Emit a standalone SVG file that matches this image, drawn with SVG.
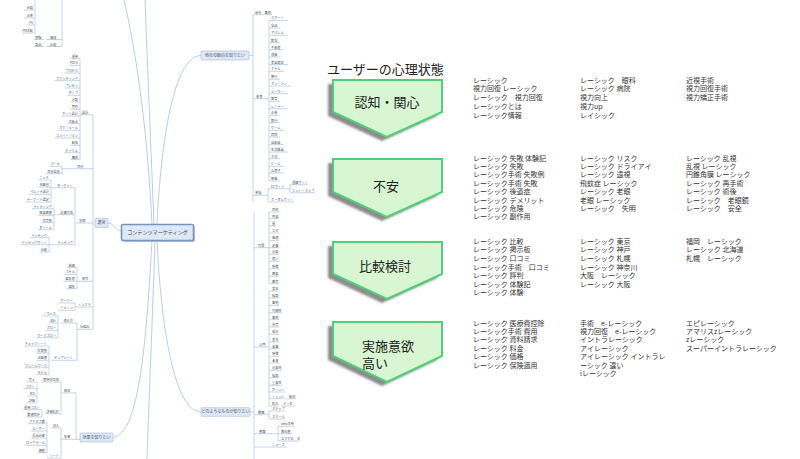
<svg xmlns="http://www.w3.org/2000/svg" width="800" height="459" viewBox="0 0 800 459">
<defs>
<style>
.k{font-family:"Noto Sans CJK JP","Noto Sans",sans-serif;font-size:7px;fill:#333}
.h{font-family:"Noto Sans CJK JP","Noto Sans",sans-serif;font-size:13px;fill:#222}
.m{font-family:"Noto Sans CJK JP","Noto Sans",sans-serif;font-size:3.2px;fill:#555}
.me{font-family:"Noto Sans CJK JP","Noto Sans",sans-serif;font-size:3.2px;fill:#555;text-anchor:end}
.n{font-family:"Noto Sans CJK JP","Noto Sans",sans-serif;font-size:4px;fill:#556}
.ln{fill:none;stroke:#a9c3e3;stroke-width:0.7}
.cv{fill:none;stroke:#a8c0e0;stroke-width:0.8}
.box{fill:#dfe9f6;stroke:#9fbadc;stroke-width:0.6}
.pent{fill:#d9f6d2;stroke:#50cf7b;stroke-width:2}
.shd{fill:#8c8c8c}
</style>
<filter id="bl" x="-10%" y="-10%" width="120%" height="120%"><feGaussianBlur stdDeviation="1"/></filter>
</defs>
<rect width="800" height="459" fill="#fff"/>

<!-- mind map connectors -->
<g id="connectors">
<path class="cv" d="M157,224.5 C161,140 174,55.5 201,55.5"/>
<path class="cv" d="M157,240.5 C161,325 174,412 201,412"/>
<path class="cv" d="M152,224.5 C148,140 138,60 124,0"/>
<path class="cv" d="M154,224.5 C151,150 148,80 145,0"/>
<path class="cv" d="M155,240.5 C152,330 149,400 147,459"/>
<path class="cv" d="M152,240.5 C147,330 140,437 113,437"/>
<path class="cv" d="M108,223 C114,223 115,231 121.5,231"/>
<!-- left top -->
<path class="ln" d="M35,0 V33 M24,10 H35 M24,18 H35 M28,25 H35 M22,33 H35 M62,0 V46.5 M34,39.5 H44 M46,39.5 H62 M34,46.5 H44 M46,46.5 H62"/>
<!-- 設計 -->
<path class="ln" d="M80,58.7 V159.7 M70.6,58.7 H80 M69.8,65.3 H80 M64.2,73 H80 M54.6,80.7 H80 M64.2,88 H80 M67.4,95.3 H80 M70.6,102 H80 M70.6,109.3 H80 M61,116 H80 M67.4,123.7 H80 M57.8,130.3 H80 M54.6,138 H80 M70.6,145.3 H80 M64.2,152.7 H80 M70.6,159.7 H80 M80,114.7 H93 M93,114.7 V329.3"/>
<!-- 目標 -->
<path class="ln" d="M62,166.3 V173.7 M50,166.3 H62 M46.6,173.7 H62 M62,168.7 H93"/>
<!-- 実務 -->
<path class="ln" d="M75,187.7 V244.7 M75,223 H93 M55,187.7 H75 M51,180 V202 M51,187.7 H55 M38.4,180 H51 M38.4,187 H51 M28.8,194.3 H51 M25.6,202 H51 M58,214.7 H75 M54,208.7 V229.7 M54,214.7 H58 M31.8,208.7 H54 M38.2,215.3 H54 M41.4,222.7 H54 M38.2,229.7 H54 M52,244.7 H75 M49,237.7 V252 M49,244.7 H52 M30,237.7 H49 M20.4,244.7 H49 M39.6,252 H49"/>
<!-- 制作 インフラ 仕組み -->
<path class="ln" d="M77,267.7 V288.7 M77,281.3 H93 M66.6,267.7 H77 M63.4,274.3 H77 M63.4,281.3 H77 M66.6,288.7 H77 M75,303 V310.3 M75,307 H93 M58.2,303 H75 M58.2,310.3 H75 M77,323 V360.3 M77,329.3 H93 M61,323 H77 M58,316 V337.7 M42.2,316 H58 M48.6,323 H58 M45.4,330.3 H58 M35.8,337.7 H58 M51.5,360.3 H77 M49,346 V374.7 M24.6,346 H49 M36.4,353 H49 M36.4,360.3 H49 M24.6,367.7 H49 M36.4,374.7 H49"/>
<!-- 効果 -->
<path class="ln" d="M76,393 V439.3 M76,439.3 H80 M61,393 H76 M61,382 V413.7 M41,382 H61 M37,382 V403 M26.6,382 H37 M23.4,388.7 H37 M27,396 H37 M26.6,403 H37 M45,413.7 H61 M42,409.7 V417 M23.0,409.7 H42 M26.2,417 H42 M61,439.3 H76 M61,428 V458 M51,428 H61 M47,423.7 V452.7 M28,423.7 H47 M31.2,431 H47 M31.2,438 H47 M24.8,445.3 H47 M37.6,452.7 H47 M47,458 H61"/>
<!-- 他社 -->
<path class="ln" d="M249,55.5 H253 M253,14.7 V202 M253,14.7 H272 M253,98.7 H269 M269,20.3 V181 M269,20.3 H288 M269,28 H280 M269,35.3 H288 M269,42.7 H280 M269,49.7 H284 M269,57 H280 M269,64.7 H288 M269,71.3 H284 M269,79.3 H280 M269,86 H291 M269,93.7 H288 M269,101.3 H280 M269,108.7 H288 M269,115.3 H280 M269,122.7 H280 M269,130.3 H284 M269,137 H280 M269,144.7 H284 M269,152 H288 M269,158.7 H280 M269,166.3 H284 M269,173 H284 M269,181 H280 M253,195.3 H268 M268,188.7 V202 M268,188.7 H290 M290,184.7 V192.7 M290,184.7 H308 M290,192.7 H315 M268,202 H294"/>
<!-- どのような -->
<path class="ln" d="M250,412 H254 M254,212 V459 M254,247.7 H269 M269,212 V283.7 M269,212 H279 M269,218.7 H279 M269,226 H276 M269,233 H279 M269,240.3 H279 M269,247.7 H279 M269,254.3 H279 M269,261.3 H279 M269,268.7 H279 M269,276.3 H279 M269,283.7 H279 M254,347 H269 M269,291 V406 M269,291 H279 M269,298 H279 M269,305.3 H279 M269,312.7 H282 M269,319.7 H279 M269,327 H279 M269,334.3 H279 M269,342 H279 M269,348.7 H279 M269,356.3 H279 M269,363 H279 M269,370.3 H282 M269,377.7 H279 M269,385.3 H282 M269,392 H285 M269,398.7 H285 M287,398.7 H296 M269,406 H279 M281,406 H295 M254,414.7 H269 M269,411 V419 M269,411 H285 M269,419 H285 M254,433.7 H278 M278,426.3 V441 M278,426.3 H295 M278,433.7 H292 M278,441 H299 M254,447 H287"/>
</g>

<!-- mind map texts -->
<g id="mm-topleft">
<text class="me" x="33" y="9">会員</text><text class="me" x="33" y="17">企業</text><text class="me" x="33" y="24">PV</text><text class="me" x="33" y="32">PR活動</text>
<text class="m" x="35" y="38.6">情報</text><text class="m" x="50" y="38.6">価格</text>
<text class="m" x="35" y="45.6">製品</text><text class="m" x="50" y="45.6">比較</text>
</g>
<g id="mm-sekkei">
<text class="me" x="78" y="57.8">運用</text><text class="me" x="78" y="64.4">PDCA</text><text class="me" x="78" y="72.1">プロセス</text><text class="me" x="78" y="79.8">ブランディング</text><text class="me" x="78" y="87.1">プレゼン</text><text class="me" x="78" y="94.4">タイプ</text><text class="me" x="78" y="101.1">分類</text><text class="me" x="78" y="108.4">管理</text><text class="me" x="78" y="115.1">サイト設計</text><text class="me" x="78" y="122.8">注意点</text><text class="me" x="78" y="129.4">スケジュール</text><text class="me" x="78" y="137.1">コンバージョン</text><text class="me" x="78" y="144.4">転換</text><text class="me" x="78" y="151.8">チャネル</text><text class="me" x="78" y="158.8">構成</text>
<text class="m" x="82" y="113.8">設計</text>
</g>
<g id="mm-mokuhyo">
<text class="m" x="77" y="167.8">目標</text><text class="me" x="60" y="165.4">ゴール</text><text class="me" x="60" y="172.8">目標設定</text>
</g>
<g id="mm-jitsumu">
<text class="m" x="79" y="222.1">実務</text>
<text class="me" x="73" y="186.8">ターゲット</text><text class="me" x="49" y="179.1">ニッチ</text><text class="me" x="49" y="186.1">年齢層</text><text class="me" x="49" y="193.4">ペルソナ設計</text><text class="me" x="49" y="201.1">キーワード選定</text>
<text class="me" x="73" y="213.8">記事作成</text><text class="me" x="52" y="207.8">ライティング</text><text class="me" x="52" y="214.4">需要調査</text><text class="me" x="52" y="221.8">文章術</text><text class="me" x="52" y="228.8">タイトル</text>
<text class="me" x="73" y="243.8">ランキング</text><text class="me" x="47" y="236.8">ランキング</text><text class="me" x="47" y="243.8">ランキングサイト</text><text class="me" x="47" y="251.1">比較</text>
</g>
<g id="mm-seisaku">
<text class="m" x="82" y="280.4">制作</text><text class="me" x="75" y="266.8">動画</text><text class="me" x="75" y="273.4">スキル</text><text class="me" x="75" y="280.4">編集者</text><text class="me" x="75" y="287.8">編集</text>
<text class="m" x="78" y="306.1">インフラ</text><text class="me" x="73" y="302.1">サーバー</text><text class="me" x="73" y="309.4">ドメイン</text>
<text class="m" x="80" y="328.4">仕組み</text><text class="me" x="73" y="322.1">進め方</text><text class="me" x="56" y="315.1">ノウハウ</text><text class="me" x="56" y="322.1">流れ</text><text class="me" x="56" y="329.4">フロー</text><text class="me" x="56" y="336.8">ワークフロー</text>
<text class="me" x="73" y="359.4">テンプレート</text><text class="me" x="47" y="345.1">チェックシート</text><text class="me" x="47" y="352.1">提案書</text><text class="me" x="47" y="359.4">企画書</text><text class="me" x="47" y="366.8">フレームワーク</text><text class="me" x="47" y="373.8">モデル</text>
</g>
<g id="mm-unei">
<rect class="box" x="95" y="218.5" width="13" height="9" rx="1"/>
<text class="n" x="101.5" y="224.4" text-anchor="middle">運営</text>
</g>
<g id="mm-kouka">
<rect class="box" x="80" y="433" width="33" height="9" rx="1"/>
<text class="n" x="96.5" y="438.9" text-anchor="middle">効果を知りたい</text>
<text class="m" x="64" y="392.1">結果</text><text class="me" x="59" y="381.1">費用対効果</text><text class="me" x="35" y="381.1">売上</text><text class="me" x="35" y="387.8">コスト</text><text class="me" x="35" y="395.1">ROI</text><text class="me" x="35" y="402.1">評価</text>
<text class="me" x="59" y="412.8">評価指標</text><text class="me" x="40" y="408.8">運用コスト</text><text class="me" x="40" y="416.1">数値目標</text>
<text class="m" x="64" y="438.4">集客</text><text class="me" x="59" y="427.1">流入</text><text class="me" x="45" y="422.8">アクセス数</text><text class="me" x="45" y="430.1">ユーザー</text><text class="me" x="45" y="437.1">見込み客</text><text class="me" x="45" y="444.4">ロングテール</text><text class="me" x="45" y="451.8">調査</text><text class="me" x="59" y="457.1">リード</text>
</g>
<g id="mm-center">
<rect x="123" y="226" width="72" height="16" rx="1.5" fill="#b9c6d8"/>
<rect x="121.5" y="224.5" width="72" height="16" rx="1.5" fill="#dfe9f6" stroke="#7895c0" stroke-width="1.6"/>
<text x="157.5" y="234.4" text-anchor="middle" font-family="Noto Sans CJK JP, sans-serif" font-size="5.1" fill="#445">コンテンツマーケティング</text>
</g>
<g id="mm-tasha">
<rect class="box" x="201" y="51" width="48" height="9" rx="1"/>
<text class="n" x="225" y="56.9" text-anchor="middle">他社の動向を知りたい</text>
<text class="m" x="255" y="13.8">競合　事例</text>
<text class="m" x="256" y="97.8">業界</text>
<text class="m" x="271" y="19.4">スポーツ</text><text class="m" x="271" y="27.1">食品</text><text class="m" x="271" y="34.4">アパレル</text><text class="m" x="271" y="41.8">飲食</text><text class="m" x="271" y="48.8">不動産</text><text class="m" x="271" y="56.1">通販</text><text class="m" x="271" y="63.8">美容健康</text><text class="m" x="271" y="70.4">ホテル</text><text class="m" x="271" y="78.4">旅行</text><text class="m" x="271" y="85.1">マンション</text><text class="m" x="271" y="92.8">メーカー</text><text class="m" x="271" y="100.4">教育</text><text class="m" x="271" y="107.8">レジャー</text><text class="m" x="271" y="114.4">企業</text><text class="m" x="271" y="121.8">銀行</text><text class="m" x="271" y="129.4">ゲーム</text><text class="m" x="271" y="136.1">病院</text><text class="m" x="271" y="143.8">自動車</text><text class="m" x="271" y="151.1">生活雑貨</text><text class="m" x="271" y="157.8">大学</text><text class="m" x="271" y="165.4">ビール</text><text class="m" x="271" y="172.1">お菓子</text><text class="m" x="271" y="180.1">映画</text>
<text class="m" x="255" y="194.4">業種</text><text class="m" x="271" y="187.8">ECサイト</text><text class="m" x="292" y="183.8">通販サイト</text><text class="m" x="292" y="191.8">ネットショップ</text><text class="m" x="271" y="201.1">ポータルサイト</text>
</g>
<g id="mm-donoyouna">
<rect class="box" x="201" y="407.7" width="49" height="8.6" rx="1"/>
<text class="n" x="225.5" y="413.4" text-anchor="middle">どのようなものが知りたい</text>
<text class="m" x="258" y="246.8">背景</text>
<text class="m" x="272" y="211.1">目的</text><text class="m" x="272" y="217.8">内容</text><text class="m" x="272" y="225.1">量</text><text class="m" x="272" y="232.1">なぜ</text><text class="m" x="272" y="239.4">価値</text><text class="m" x="272" y="246.8">定義</text><text class="m" x="272" y="253.4">必要</text><text class="m" x="272" y="260.4">違い</text><text class="m" x="272" y="267.8">特徴</text><text class="m" x="272" y="275.4">概要</text><text class="m" x="272" y="282.8">概念</text>
<text class="m" x="259" y="346.1">入門</text>
<text class="m" x="272" y="290.1">基本</text><text class="m" x="272" y="297.1">種類</text><text class="m" x="272" y="304.4">事例</text><text class="m" x="272" y="311.8">可能性</text><text class="m" x="272" y="318.8">事例</text><text class="m" x="272" y="326.1">参考</text><text class="m" x="272" y="333.4">成功</text><text class="m" x="272" y="341.1">基本</text><text class="m" x="272" y="347.8">意識</text><text class="m" x="272" y="355.4">特徴</text><text class="m" x="272" y="362.1">未来</text><text class="m" x="272" y="369.4">必要性</text><text class="m" x="272" y="376.8">種類</text><text class="m" x="272" y="384.4">重要性</text><text class="m" x="272" y="391.1">ポイント</text><text class="m" x="272" y="397.8">トレンド</text><text class="m" x="289" y="397.8">動向</text><text class="m" x="272" y="405.1">統計</text><text class="m" x="283" y="405.1">データ</text>
<text class="m" x="258" y="413.8">戦略</text><text class="m" x="272" y="410.1">ステップ</text><text class="m" x="272" y="418.1">スクール</text>
<text class="m" x="259" y="432.8">書籍</text><text class="m" x="281" y="425.4">web活用</text><text class="m" x="281" y="432.8">教科書</text><text class="m" x="281" y="440.1">おすすめ　本</text>
<text class="m" x="272" y="446.1">ニュース</text>
</g>

<!-- right: user psychology -->
<g id="title"><text class="h" x="327" y="74">ユーザーの心理状態</text></g>

<g id="stage1">
<polygon class="shd" filter="url(#bl)" points="328,84 437,84 437,116 382,141 328,116"/>
<polygon class="pent" points="333,80 442,80 442,112 387,137 333,112"/>
<text class="h" x="387" y="106.5" text-anchor="middle">認知・関心</text>
</g>
<g id="stage2">
<polygon class="shd" filter="url(#bl)" points="328,163 437,163 437,196 382,221 328,196"/>
<polygon class="pent" points="333,159 442,159 442,192 387,217 333,192"/>
<text class="h" x="386" y="190.5" text-anchor="middle">不安</text>
</g>
<g id="stage3">
<polygon class="shd" filter="url(#bl)" points="328,246 437,246 437,278 382,303 328,278"/>
<polygon class="pent" points="333,242 442,242 442,274 387,299 333,274"/>
<text class="h" x="385" y="271" text-anchor="middle">比較検討</text>
</g>
<g id="stage4">
<polygon class="shd" filter="url(#bl)" points="328,326 437,326 437,360 382,386 328,360"/>
<polygon class="pent" points="333,322 442,322 442,356 387,382 333,356"/>
<text class="h" x="362" y="351">実施意欲</text>
<text class="h" x="362" y="367.5">高い</text>
</g>

<g id="kw1">
<text class="k" x="473" y="82.5"><tspan x="473">レーシック</tspan><tspan x="473" dy="8.8">視力回復 レーシック</tspan><tspan x="473" dy="8.8">レーシック　視力回復</tspan><tspan x="473" dy="8.8">レーシックとは</tspan><tspan x="473" dy="8.8">レーシック情報</tspan></text>
<text class="k" x="580" y="82.5"><tspan x="580">レーシック　眼科</tspan><tspan x="580" dy="8.8">レーシック 病院</tspan><tspan x="580" dy="8.8">視力向上</tspan><tspan x="580" dy="8.8">視力up</tspan><tspan x="580" dy="8.8">レイシック</tspan></text>
<text class="k" x="686" y="82.5"><tspan x="686">近視手術</tspan><tspan x="686" dy="8.8">視力回復手術</tspan><tspan x="686" dy="8.8">視力矯正手術</tspan></text>
</g>
<g id="kw2">
<text class="k" x="473" y="160.8"><tspan x="473">レーシック 失敗 体験記</tspan><tspan x="473" dy="8.34">レーシック 失敗</tspan><tspan x="473" dy="8.34">レーシック手術 失敗例</tspan><tspan x="473" dy="8.34">レーシック手術 失敗</tspan><tspan x="473" dy="8.34">レーシック 後遺症</tspan><tspan x="473" dy="8.34">レーシック デメリット</tspan><tspan x="473" dy="8.34">レーシック 危険</tspan><tspan x="473" dy="8.34">レーシック 副作用</tspan></text>
<text class="k" x="580" y="160.8"><tspan x="580">レーシック リスク</tspan><tspan x="580" dy="8.34">レーシック ドライアイ</tspan><tspan x="580" dy="8.34">レーシック 遠視</tspan><tspan x="580" dy="8.34">飛蚊症 レーシック</tspan><tspan x="580" dy="8.34">レーシック 老眼</tspan><tspan x="580" dy="8.34">老眼 レーシック</tspan><tspan x="580" dy="8.34">レーシック　失明</tspan></text>
<text class="k" x="686" y="160.8"><tspan x="686">レーシック 乱視</tspan><tspan x="686" dy="8.34">乱視 レーシック</tspan><tspan x="686" dy="8.34">円錐角膜 レーシック</tspan><tspan x="686" dy="8.34">レーシック 再手術</tspan><tspan x="686" dy="8.34">レーシック 術後</tspan><tspan x="686" dy="8.34">レーシック　老眼鏡</tspan><tspan x="686" dy="8.34">レーシック　安全</tspan></text>
</g>
<g id="kw3">
<text class="k" x="473" y="243.8"><tspan x="473">レーシック 比較</tspan><tspan x="473" dy="8.6">レーシック 掲示板</tspan><tspan x="473" dy="8.6">レーシック 口コミ</tspan><tspan x="473" dy="8.6">レーシック手術　口コミ</tspan><tspan x="473" dy="8.6">レーシック 評判</tspan><tspan x="473" dy="8.6">レーシック 体験記</tspan><tspan x="473" dy="8.6">レーシック 体験</tspan></text>
<text class="k" x="580" y="243.8"><tspan x="580">レーシック 東京</tspan><tspan x="580" dy="8.6">レーシック 神戸</tspan><tspan x="580" dy="8.6">レーシック 札幌</tspan><tspan x="580" dy="8.6">レーシック 神奈川</tspan><tspan x="580" dy="8.6">大阪　レーシック</tspan><tspan x="580" dy="8.6">レーシック 大阪</tspan></text>
<text class="k" x="686" y="243.8"><tspan x="686">福岡　レーシック</tspan><tspan x="686" dy="8.6">レーシック 北海道</tspan><tspan x="686" dy="8.6">札幌　レーシック</tspan></text>
</g>
<g id="kw4">
<text class="k" x="473" y="325.5"><tspan x="473">レーシック 医療費控除</tspan><tspan x="473" dy="8.45">レーシック手術 費用</tspan><tspan x="473" dy="8.45">レーシック 資料請求</tspan><tspan x="473" dy="8.45">レーシック 料金</tspan><tspan x="473" dy="8.45">レーシック 価格</tspan><tspan x="473" dy="8.45">レーシック 保険適用</tspan></text>
<text class="k" x="580" y="325.5"><tspan x="580">手術　e-レーシック</tspan><tspan x="580" dy="8.45">視力回復　e-レーシック</tspan><tspan x="580" dy="8.45">イントラレーシック</tspan><tspan x="580" dy="8.45">アイレーシック</tspan><tspan x="580" dy="8.45">アイレーシック イントラレ</tspan><tspan x="580" dy="8.45">ーシック 違い</tspan><tspan x="580" dy="8.45">iレーシック</tspan></text>
<text class="k" x="686" y="325.5"><tspan x="686">エピレーシック</tspan><tspan x="686" dy="8.45">アマリスzレーシック</tspan><tspan x="686" dy="8.45">zレーシック</tspan><tspan x="686" dy="8.45">スーパーイントラレーシック</tspan></text>
</g>
</svg>
